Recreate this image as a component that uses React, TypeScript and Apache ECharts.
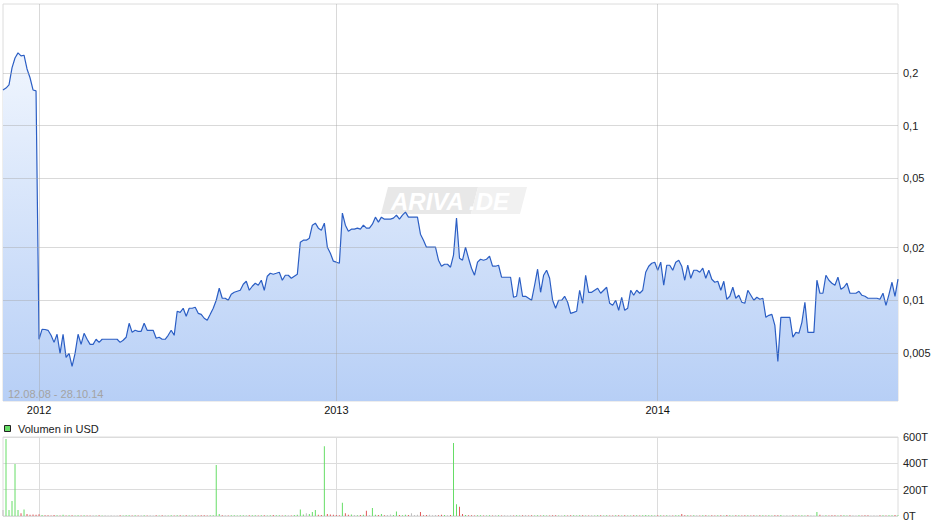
import React, { useEffect, useRef } from 'react';
import * as echarts from 'echarts';

// Closing price (USD), one value per trading-day slot
const prices: number[] = [
  0.160, 0.164, 0.171, 0.214, 0.244, 0.261, 0.251, 0.253, 0.211, 0.188,
  0.160, 0.158, 0.00598, 0.00682, 0.0068, 0.00673, 0.0063, 0.00574, 0.00639, 0.00497,
  0.00639, 0.00471, 0.00497, 0.00418, 0.00497, 0.00639, 0.00559, 0.00647, 0.00598, 0.00559,
  0.00559, 0.00598, 0.00574, 0.00598, 0.00598, 0.00598, 0.00598, 0.00598, 0.00598, 0.00574,
  0.0059, 0.00614, 0.00738, 0.00655, 0.00673, 0.00664, 0.00664, 0.00738, 0.00673, 0.00673,
  0.00673, 0.00606, 0.00614, 0.00598, 0.00598, 0.0063, 0.00673, 0.0063, 0.00865, 0.00853,
  0.009, 0.0081, 0.009, 0.009, 0.00912, 0.00842, 0.00831, 0.00789, 0.00768, 0.00831,
  0.009, 0.01, 0.01172, 0.01027, 0.01027, 0.01, 0.01082, 0.01111, 0.01126, 0.01141,
  0.01235, 0.01285, 0.01141, 0.01203, 0.01252, 0.01219, 0.01302, 0.01141, 0.01373, 0.01428,
  0.0141, 0.01428, 0.01447, 0.01302, 0.01391, 0.01391, 0.01337, 0.01373, 0.0141, 0.02151,
  0.02208, 0.02208, 0.02267, 0.02692, 0.02764, 0.02587, 0.0252, 0.02764, 0.02013, 0.0186,
  0.01674, 0.01652, 0.0163, 0.03154, 0.02692, 0.02487, 0.02553, 0.02553, 0.02587, 0.02553,
  0.02692, 0.02587, 0.02587, 0.02728, 0.02992, 0.028, 0.02992, 0.02914, 0.02914, 0.02914,
  0.02952, 0.03072, 0.02914, 0.03072, 0.03196, 0.02992, 0.02992, 0.02992, 0.02992, 0.0239,
  0.02208, 0.02013, 0.02013, 0.02013, 0.02013, 0.01696, 0.01567, 0.01608, 0.01608, 0.01546,
  0.01811, 0.02952, 0.01741, 0.01696, 0.02013, 0.01741, 0.01526, 0.01391, 0.01652, 0.01718,
  0.01696, 0.01718, 0.01788, 0.01567, 0.01567, 0.01587, 0.01355, 0.01355, 0.01355, 0.01355,
  0.0104, 0.01054, 0.01355, 0.01054, 0.01054, 0.01027, 0.01, 0.01219, 0.01506, 0.01111,
  0.01391, 0.01486, 0.01337, 0.01, 0.009, 0.01, 0.01, 0.01054, 0.00974, 0.00842,
  0.00853, 0.00865, 0.01141, 0.00961, 0.01391, 0.01111, 0.01111, 0.01141, 0.01172, 0.01097,
  0.01141, 0.01187, 0.00961, 0.00936, 0.01, 0.00876, 0.0104, 0.00876, 0.009, 0.01141,
  0.01068, 0.01141, 0.01097, 0.01141, 0.01447, 0.01567, 0.0163, 0.01652, 0.01486, 0.01652,
  0.01219, 0.01587, 0.01587, 0.01486, 0.01652, 0.01696, 0.01567, 0.01302, 0.01587, 0.01337,
  0.01486, 0.01486, 0.01447, 0.01526, 0.01337, 0.01486, 0.0132, 0.01268, 0.01285, 0.01141,
  0.01285, 0.01013, 0.01054, 0.01187, 0.01027, 0.01068, 0.00974, 0.00961, 0.01141, 0.01068,
  0.01, 0.0104, 0.01013, 0.01027, 0.00799, 0.0082, 0.00831, 0.00719, 0.00447, 0.00799,
  0.00799, 0.00799, 0.00799, 0.00614, 0.00655, 0.00647, 0.00748, 0.00974, 0.00655, 0.00655,
  0.00655, 0.01302, 0.01097, 0.01097, 0.01391, 0.01302, 0.01252, 0.01219, 0.01355, 0.01156,
  0.01187, 0.01252, 0.01097, 0.01097, 0.01097, 0.01126, 0.01068, 0.01054, 0.01027, 0.01027,
  0.01027, 0.01027, 0.01013, 0.01097, 0.00936, 0.01082, 0.01268, 0.01054, 0.0132,
];

// Volume in thousands of USD ("T"), one per slot
const volumesK: number[] = [
  45, 585, 45, 114, 395, 45, 20, 50, 15, 10, 12, 10,
  14, 8, 6, 5, 4, 8, 5, 4, 9, 4, 5, 6, 4, 5, 4, 5, 4, 4, 6, 4, 6, 4, 5, 4, 5, 4, 4, 6, 4,
  5, 6, 4, 5, 4, 6, 5, 4, 5, 4, 6, 4, 5, 6, 4, 5, 4, 5, 6, 4, 5, 4, 8, 5, 4, 5, 6, 4, 5, 6,
  387,
  15, 6, 5, 4, 6, 5, 4, 5, 6, 4, 5, 6, 5, 4, 6, 5, 4, 5, 8, 6, 5, 4, 6, 5, 4, 8, 10,
  50, 12, 20, 15, 30, 45, 10, 8, 530, 15, 12, 10,
  8, 6, 100, 20, 10, 12, 8, 6, 8, 10, 40, 8, 60, 10, 8, 15, 6, 8, 12, 8, 35, 8, 6, 10, 8, 20, 8, 10, 30,
  6, 8, 10, 6, 8, 6, 10, 8, 6, 8,
  555, 90, 70, 15, 8,
  6, 5, 4, 6, 5, 4, 3, 5, 4, 6, 5, 4,
  5, 4, 6, 3, 5, 4, 5, 8, 4, 5, 4, 6,
  4, 5, 3, 4, 6, 5, 4, 3, 5, 4, 6, 5,
  4, 5, 6, 4, 3, 5, 4, 6, 5, 4, 5, 3,
  4, 6, 5, 4, 5, 4, 3, 5, 6, 4, 5, 8,
  6, 5, 4, 6, 5, 4, 6, 5, 4, 5, 6, 15,
  6, 5, 4, 6, 5, 4, 5, 6, 4, 5, 4, 6,
  5, 4, 8, 5, 4, 6, 5, 4, 5, 6, 4, 5,
  4, 6, 5, 4, 5, 4, 6, 5, 8, 4, 5, 4,
  6, 5, 4, 5, 4, 6, 5, 4, 30, 10, 6, 5,
  4, 6, 5, 4, 6, 5, 4, 5, 6, 4, 5, 4,
  6, 5, 4, 5, 4, 6, 5, 4, 6, 5, 8, 6,
];

const yearLabels = ['2012', '2013', '2014'];
const yearStartIdx = [12, 111, 218];
const priceGridValues = [0.005, 0.01, 0.02, 0.05, 0.1, 0.2];
const priceAxisMin = 0.00265;
const priceAxisMax = 0.497;
const volumeAxisMax = 600;
const volumeAxisStep = 200;
const dateRangeText = '12.08.08 - 28.10.14';
const volumeLegend = 'Volumen in USD';
const watermarkLeft = 'ARIVA';
const watermarkRight = '.DE';

const FONT = '"Liberation Sans", Arial, Helvetica, sans-serif';

export default function App() {
  const ref = useRef<HTMLDivElement>(null);

  useEffect(() => {
    const chart = echarts.init(ref.current!, null, { renderer: 'svg' });
    const cats = prices.map((_, i) => {
      const k = yearStartIdx.indexOf(i);
      return k >= 0 ? yearLabels[k] : 'd' + i;
    });
    const isYear = (i: number) => yearStartIdx.includes(i);
    const fmt = (v: number) => String(v).replace('.', ',');
    const upC = '#66dd66';
    const downC = '#e05a5a';
    const flatC = '#bdbdbd';
    const barColor = (i: number) =>
      i === 0 ? flatC : prices[i] > prices[i - 1] ? upC : prices[i] < prices[i - 1] ? downC : flatC;
    const gridLineColor = 'rgba(165,165,165,0.42)';

    chart.setOption({
      animation: false,
      textStyle: { fontFamily: FONT },
      grid: [
        { left: 3, top: 4, width: 895, height: 397, show: true, borderColor: '#dcdcdc', borderWidth: 1 },
        { left: 3, top: 437, width: 895, height: 79, show: true, borderColor: '#dcdcdc', borderWidth: 1 },
      ],
      xAxis: [
        {
          type: 'category', gridIndex: 0, data: cats, boundaryGap: false,
          axisLine: { show: false }, axisTick: { show: false }, splitLine: { show: false },
          axisLabel: { interval: (i: number) => isYear(i), color: '#111', fontSize: 11, margin: 3, fontFamily: FONT },
        },
        {
          type: 'category', gridIndex: 1, data: cats, boundaryGap: false,
          axisLine: { show: false }, axisTick: { show: false }, axisLabel: { show: false },
          splitLine: { show: true, interval: (i: number) => isYear(i), lineStyle: { color: '#dcdcdc', width: 1 } },
        },
      ],
      yAxis: [
        {
          type: 'log', gridIndex: 0, min: priceAxisMin, max: priceAxisMax, position: 'right',
          axisLine: { show: false }, axisTick: { show: false }, axisLabel: { show: false }, splitLine: { show: false },
        },
        {
          type: 'value', gridIndex: 1, min: 0, max: volumeAxisMax, interval: volumeAxisStep, position: 'right',
          axisLine: { show: false }, axisTick: { show: false },
          axisLabel: { formatter: (v: number) => v + 'T', color: '#222', fontSize: 11, margin: 5, fontFamily: FONT },
          splitLine: { lineStyle: { color: '#dcdcdc', width: 1 } },
        },
      ],
      series: [
        {
          name: 'area', type: 'line', xAxisIndex: 0, yAxisIndex: 0, data: prices, z: 1,
          symbol: 'none', silent: true, lineStyle: { width: 0, opacity: 0 },
          areaStyle: {
            opacity: 1,
            color: new echarts.graphic.LinearGradient(0, 4, 0, 401, [
              { offset: 0, color: '#f8fbff' },
              { offset: 1, color: '#b7cff6' },
            ], true),
          },
        },
        {
          name: 'grid', type: 'line', xAxisIndex: 0, yAxisIndex: 0, data: prices, z: 2,
          symbol: 'none', silent: true, lineStyle: { width: 0, opacity: 0 },
          markLine: {
            silent: true, symbol: ['none', 'none'], animation: false, precision: 6,
            lineStyle: { color: gridLineColor, type: 'solid', width: 1 },
            label: { show: false },
            data: [
              ...priceGridValues.map((v) => ({
                yAxis: v,
                label: {
                  show: true, position: 'end', distance: 5, formatter: fmt(v),
                  color: '#222', fontSize: 11, fontFamily: FONT,
                },
              })),
              ...yearStartIdx.map((i) => ({ xAxis: cats[i], label: { show: false } })),
            ],
          },
        },
        {
          name: 'Kurs', type: 'line', xAxisIndex: 0, yAxisIndex: 0, data: prices, z: 3,
          symbol: 'none', lineStyle: { color: '#2b5ec4', width: 1.2 },
        },
        {
          name: volumeLegend, type: 'bar', xAxisIndex: 1, yAxisIndex: 1, data: volumesK,
          barWidth: 1, color: upC,
          itemStyle: { color: (p: any) => barColor(p.dataIndex) },
        },
      ],
      graphic: [
        {
          type: 'group', z: 0, silent: true,
          children: [
            { type: 'polygon', shape: { points: [[388, 187], [478, 187], [471, 214], [381, 214]] }, style: { fill: '#e8e8e8' } },
            { type: 'polygon', shape: { points: [[478, 187], [527, 187], [520, 214], [471, 214]] }, style: { fill: '#f1f1f1' } },
            {
              type: 'text', x: 391, y: 201,
              style: { text: watermarkLeft, fill: '#ffffff', fontSize: 24, fontStyle: 'italic', fontWeight: 'bold', fontFamily: FONT, verticalAlign: 'middle' },
            },
            {
              type: 'text', x: 469, y: 201,
              style: { text: watermarkRight, fill: '#ffffff', fontSize: 24, fontStyle: 'italic', fontWeight: 'bold', fontFamily: FONT, verticalAlign: 'middle' },
            },
          ],
        },
        {
          type: 'text', x: 8, y: 394, z: 100, silent: true,
          style: { text: dateRangeText, fill: '#a3a3a3', fontSize: 11, fontFamily: FONT, verticalAlign: 'middle' },
        },
        {
          type: 'rect', z: 100, silent: true, shape: { x: 4.5, y: 425.5, width: 6, height: 6 },
          style: { fill: upC, stroke: '#222', lineWidth: 1 },
        },
        {
          type: 'text', x: 18, y: 428.5, z: 100, silent: true,
          style: { text: volumeLegend, fill: '#222', fontSize: 11, fontFamily: FONT, verticalAlign: 'middle' },
        },
      ],
    });
    return () => chart.dispose();
  }, []);

  return (
    <div
      ref={ref}
      style={{ position: 'fixed', left: 0, top: 0, width: 940, height: 526, background: '#fff' }}
    />
  );
}
